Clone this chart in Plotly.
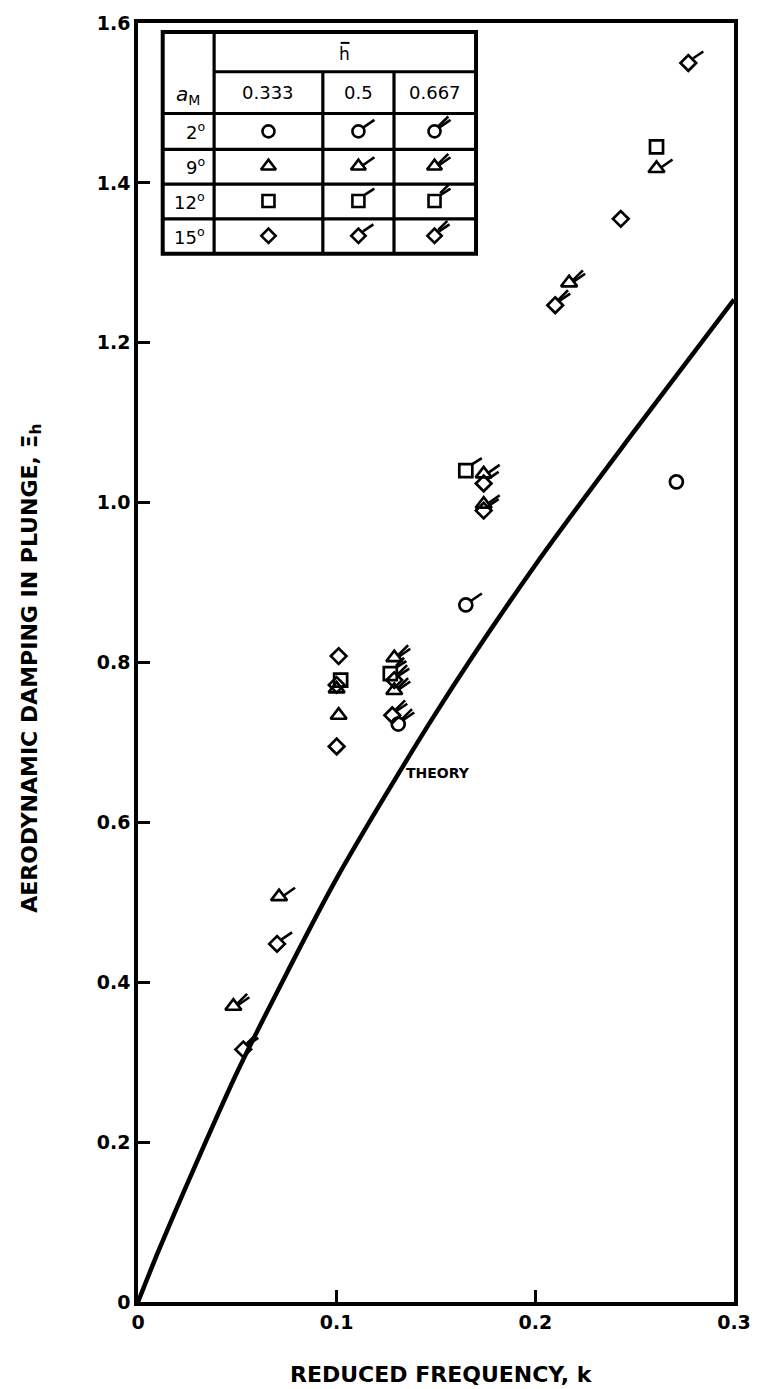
import plotly.graph_objects as go

# ---- Theory curve: aerodynamic damping in plunge vs reduced frequency ----
theory_k = [0, 0.01, 0.025, 0.05, 0.075, 0.1, 0.15, 0.2, 0.25, 0.3]
theory_xi = [0, 0.062, 0.149, 0.288, 0.412, 0.530, 0.737, 0.922, 1.090, 1.254]

# ---- Measured points ----
k_meas = [0.277, 0.261, 0.261, 0.243, 0.217, 0.210, 0.271, 0.165, 0.174, 0.174,
          0.174, 0.174, 0.165, 0.101, 0.102, 0.100, 0.100, 0.101, 0.100, 0.129,
          0.127, 0.129, 0.129, 0.128, 0.131, 0.071, 0.070, 0.048, 0.053]
xi_meas = [1.550, 1.445, 1.418, 1.355, 1.275, 1.247, 1.026, 1.040, 1.036, 1.024,
           0.998, 0.990, 0.872, 0.808, 0.778, 0.772, 0.767, 0.734, 0.695, 0.806,
           0.786, 0.778, 0.765, 0.734, 0.723, 0.507, 0.448, 0.370, 0.316]
alpha_m = [15, 12, 9, 15, 9, 15, 2, 12, 9, 15,
           9, 15, 2, 15, 12, 15, 9, 9, 15, 9,
           12, 15, 9, 15, 2, 9, 15, 9, 15]
h_bar = [0.5, 0.333, 0.5, 0.333, 0.667, 0.667, 0.333, 0.5, 0.5, 0.5,
         0.5, 0.5, 0.5, 0.333, 0.333, 0.333, 0.333, 0.333, 0.333, 0.667,
         0.667, 0.667, 0.667, 0.667, 0.667, 0.5, 0.5, 0.667, 0.667]

# ---- Key table entries ----
alpha_rows = [2, 9, 12, 15]
alpha_labels = ["2<sup>o</sup>", "9<sup>o</sup>", "12<sup>o</sup>", "15<sup>o</sup>"]
hbar_cols = [0.333, 0.5, 0.667]
hbar_labels = ["0.333", "0.5", "0.667"]

# axis ticks
x_ticks = [0, 0.1, 0.2, 0.3]
x_tick_text = ["0", "0.1", "0.2", "0.3"]
y_ticks = [0, 0.2, 0.4, 0.6, 0.8, 1.0, 1.2, 1.4, 1.6]
y_tick_text = ["0", "0.2", "0.4", "0.6", "0.8", "1.0", "1.2", "1.4", "1.6"]

# ---- Styling ----
W, H = 763, 1389
L, R, T, B = 138, 741, 16, 1302          # plot area in pixels
FONT = "DejaVu Sans"
INK = "black"

symbol_for = {2: "circle-open", 9: "triangle-up-open",
              12: "square-open", 15: "diamond-open"}
size_for = {2: 13, 9: 14, 12: 13, 15: 12}
n_flags = {0.333: 0, 0.5: 1, 0.667: 2}
# flag stroke (start, end) in pixel offsets from the marker centre, y upward
flag_geom = {2: ((5.0, 4.0), (16.0, 11.5)),
             9: ((4.5, 1.0), (16.0, 9.0)),
             12: ((6.5, 6.5), (16.0, 12.5)),
             15: ((4.5, 4.5), (15.0, 11.5))}


def px_x(p):
    return (p - L) / (R - L)


def px_y(p):
    return (B - p) / (B - T)


def flag_shapes(xv, yv, alpha, count, xref, yref):
    shapes = []
    (sx, sy), (ex, ey) = flag_geom[alpha]
    offsets = [(0.0, 0.0), (-2.2, 3.4)][:count]
    for ox, oy in offsets:
        shapes.append(dict(type="line", xref=xref, yref=yref,
                           xsizemode="pixel", ysizemode="pixel",
                           xanchor=xv, yanchor=yv,
                           x0=sx + ox * 0.4, y0=sy + oy * 0.4, x1=ex + ox, y1=ey + oy,
                           line=dict(color=INK, width=2.6)))
    return shapes


fig = go.Figure()

fig.add_trace(go.Scatter(x=theory_k, y=theory_xi, mode="lines",
                         line=dict(color=INK, width=4.5, shape="spline", smoothing=0.8),
                         hoverinfo="skip", showlegend=False))

shapes = []
for a in alpha_rows:
    idx = [i for i, v in enumerate(alpha_m) if v == a]
    fig.add_trace(go.Scatter(
        x=[k_meas[i] for i in idx], y=[xi_meas[i] for i in idx], mode="markers",
        marker=dict(symbol=symbol_for[a], size=size_for[a], color=INK,
                    line=dict(color=INK, width=2.7)),
        showlegend=False))
for kv, xv, a, hb in zip(k_meas, xi_meas, alpha_m, h_bar):
    shapes += flag_shapes(kv, xv, a, n_flags[hb], "x", "y")

# ---- Key table (drawn in an overlaid 0..1 frame spanning the plot area) ----
tx0, tx1 = 163, 480
ty0, ty1 = 25, 248
col_edges = [215, 325, 397]
row_edges = [65, 107, 143, 178, 213]
col_centres = [270, 361, 438]
row_centres = [125, 160, 195, 230]


def pline(x0, y0, x1, y1, w=3.2):
    return dict(type="line", xref="paper", yref="paper",
                x0=px_x(x0), y0=px_y(y0), x1=px_x(x1), y1=px_y(y1),
                line=dict(color=INK, width=w))


shapes.append(dict(type="rect", xref="paper", yref="paper",
                   x0=px_x(tx0), y0=px_y(ty0), x1=px_x(tx1), y1=px_y(ty1),
                   fillcolor="white", line=dict(color=INK, width=4), layer="below"))
shapes.append(pline(col_edges[0], ty0, col_edges[0], ty1))
shapes.append(pline(col_edges[0], row_edges[0], tx1, row_edges[0]))
for ry in row_edges[1:]:
    shapes.append(pline(tx0, ry, tx1, ry))
for cx in col_edges[1:]:
    shapes.append(pline(cx, row_edges[0], cx, ty1))
# overbar of the h-bar heading
shapes.append(pline(343, 36, 352, 36, w=2))

for a, rc in zip(alpha_rows, row_centres):
    xs = [px_x(c) for c in col_centres]
    ys = [px_y(rc)] * 3
    fig.add_trace(go.Scatter(
        x=xs, y=ys, xaxis="x2", yaxis="y2", mode="markers",
        marker=dict(symbol=symbol_for[a], size=size_for[a] - 1, color=INK,
                    line=dict(color=INK, width=2.6)),
        showlegend=False, hoverinfo="skip"))
    for xv, hb in zip(xs, hbar_cols):
        shapes += flag_shapes(xv, ys[0], a, n_flags[hb], "x2", "y2")

annotations = []
tfont = dict(family=FONT, size=18, color=INK)


def cell_text(x, y, text, font, xanchor="center"):
    return dict(xref="paper", yref="paper", x=px_x(x), y=px_y(y),
                xanchor=xanchor, yanchor="middle", text=text,
                showarrow=False, font=font)


annotations.append(cell_text(347, 47, "h", dict(family=FONT, size=17, color=INK)))
annotations.append(cell_text(189, 88, "<i>a</i><sub>M</sub>",
                             dict(family=FONT, size=20, color=INK)))
for lab, c in zip(hbar_labels, col_centres):
    annotations.append(cell_text(c, 86, lab, tfont))
for lab, rc in zip(alpha_labels, row_centres):
    annotations.append(cell_text(208, rc, lab, tfont, xanchor="right"))

annotations.append(dict(xref="x", yref="y", x=0.151, y=0.662, text="<b>THEORY</b>",
                        xanchor="center", yanchor="middle",
                        showarrow=False, font=dict(family=FONT, size=14, color=INK)))

annotations.append(dict(xref="paper", yref="paper", x=px_x(445), y=px_y(1375),
                        xanchor="center", yanchor="middle",
                        text="<b>REDUCED FREQUENCY, k</b>", showarrow=False,
                        font=dict(family=FONT, size=22, color=INK)))
annotations.append(dict(xref="paper", yref="paper", x=px_x(30), y=px_y(665),
                        xanchor="center", yanchor="middle",
                        text="<b>AERODYNAMIC DAMPING IN PLUNGE, \u039e<sub>h</sub></b>",
                        textangle=-90, showarrow=False,
                        font=dict(family=FONT, size=22, color=INK)))

axis_common = dict(showgrid=False, zeroline=False, showline=True, linecolor=INK,
                   linewidth=3.5, mirror=True, ticks="inside", ticklen=12,
                   tickwidth=2.5, tickcolor=INK,
                   tickfont=dict(family=FONT, size=19, color=INK))

fig.update_layout(
    width=W, height=H,
    margin=dict(l=L, r=W - R, t=T, b=H - B),
    paper_bgcolor="white", plot_bgcolor="white",
    xaxis=dict(range=[0, 0.3], tickvals=x_ticks, ticktext=[f"<b>{t}</b>" for t in x_tick_text],
               **axis_common),
    yaxis=dict(range=[0, 1.6], tickvals=y_ticks, ticktext=[f"<b>{t}</b>" for t in y_tick_text],
               **axis_common),
    xaxis2=dict(overlaying="x", range=[0, 1], visible=False),
    yaxis2=dict(overlaying="y", range=[0, 1], visible=False),
    shapes=shapes,
    annotations=annotations,
    showlegend=False,
)

fig.write_html("out.html")
